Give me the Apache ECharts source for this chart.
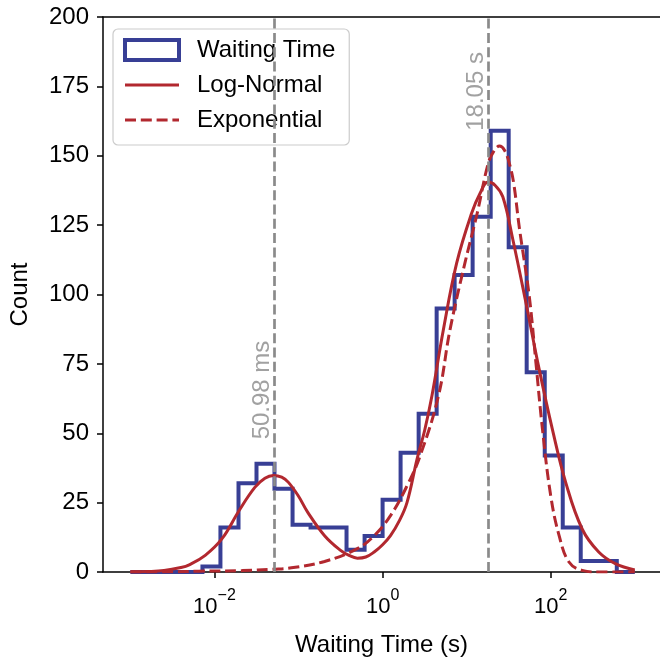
<!DOCTYPE html>
<html>
<head>
<meta charset="utf-8">
<script src="https://cdn.jsdelivr.net/npm/echarts@6/dist/echarts.min.js"></script>
<style>html,body{margin:0;padding:0;background:#fff}#c{width:660px;height:662px}</style>
</head>
<body>
<div id="c"></div>
<script>
// ---- data (x values are log10 of waiting time in seconds) ----
const binEdgesLog10 = [-3, -2.786, -2.571, -2.357, -2.143, -1.929, -1.714, -1.5, -1.286, -1.071,
  -0.857, -0.643, -0.429, -0.214, 0, 0.214, 0.429, 0.643, 0.857, 1.071,
  1.286, 1.5, 1.714, 1.929, 2.143, 2.357, 2.571, 2.786, 3];
const histCounts = [0, 0, 0, 0, 2, 16, 32, 39, 30, 17, 16, 16, 8, 13, 26, 43, 57, 95, 107, 128,
  159, 117, 72, 42, 16, 4, 4, 0];

const lognormLog10T = [-3.0, -2.8, -2.6, -2.4, -2.3, -2.11, -1.91, -1.71, -1.52, -1.4, -1.3, -1.2,
  -1.12, -1.0, -0.89, -0.69, -0.5, -0.4, -0.3, -0.2, -0.1, 0.0, 0.094, 0.2, 0.29, 0.41, 0.5, 0.586,
  0.723, 0.881, 1.058, 1.16, 1.254, 1.34, 1.43, 1.548, 1.706, 1.863, 2.02, 2.178, 2.374, 2.571,
  2.768, 3.0];
const lognormCount = [0.05, 0.15, 0.5, 1.6, 2.6, 6.0, 12, 22, 30.5, 33.8, 34.8, 34.2,
  32.3, 27.3, 21.5, 13.1, 7.8, 6.0, 5.0, 5.4, 7.2, 9.8, 13.1, 18.5, 25, 40.7, 51, 63.3,
  87.3, 111.3, 129.2, 136.5, 140.5, 139.3, 135.2, 120, 96.9, 73, 51.4, 32.3, 15.5, 7.2,
  3.0, 0.7];

const expLog10T = [-3.0, -2.5, -2.19, -1.67, -1.3, -1.085, -0.69, -0.3, -0.1, 0.094, 0.29, 0.448,
  0.664, 0.802, 0.979, 1.124, 1.254, 1.32, 1.39, 1.45, 1.51, 1.56, 1.627, 1.745, 1.824, 1.902,
  2.0, 2.1, 2.217, 2.374, 2.57, 3.0];
const expCount = [0.02, 0.1, 0.3, 0.5, 1.0, 1.5, 3.8, 8.4, 13.1, 20.3, 31, 42,
  63.4, 87.3, 111.3, 129.1, 147, 151.5, 153.5, 152, 147, 140, 124, 99.3, 75.4, 51.4,
  27.5, 13.1, 3.6, 0.6, 0.0, 0.0];

const vlineSeconds = [0.05098, 18.05];
const vlineLabels = ['50.98 ms', '18.05 s'];
const vlineLabelY = [47.8, 159];

const xTickExponents = [-2, 0, 2];

// ---- styling ----
const FONT = "'Liberation Sans', Arial, Helvetica, sans-serif";
const BLUE = '#383f95', RED = '#b2282f', GRAY = '#8a8a8a';
const DASH = [11, 4.8];

// histogram outline (step) built from edges and counts
const histPts = [[binEdgesLog10[0], 0]];
histCounts.forEach((c, i) => {
  histPts.push([binEdgesLog10[i], c]);
  histPts.push([binEdgesLog10[i + 1], c]);
});
histPts.push([binEdgesLog10[binEdgesLog10.length - 1], 0]);

const lognormPts = lognormLog10T.map((x, i) => [x, lognormCount[i]]);
const expPts = expLog10T.map((x, i) => [x, expCount[i]]);
const vlineX = vlineSeconds.map(s => Math.log10(s));

const chart = echarts.init(document.getElementById('c'), null, {renderer: 'canvas'});
const xMin = -3.326, xMax = 3.3;

chart.setOption({
  animation: false,
  backgroundColor: '#fff',
  textStyle: {fontFamily: FONT},
  grid: {left: 100, top: 17, width: 561, height: 556, containLabel: false},
  legend: {
    orient: 'vertical', left: 113, top: 29,
    padding: [9, 14, 13, 10],
    itemWidth: 54, itemHeight: 20, itemGap: 11,
    backgroundColor: 'rgba(255,255,255,0.8)',
    borderColor: '#cccccc', borderWidth: 1.2, borderRadius: 5,
    selectedMode: false,
    textStyle: {fontSize: 24, fontFamily: FONT, color: '#000', padding: [0, 0, 0, 13]},
    data: [
      {name: 'Waiting Time', icon: 'rect', itemStyle: {color: '#fff', borderColor: BLUE, borderWidth: 4}},
      {name: 'Log-Normal', itemStyle: {opacity: 0}, lineStyle: {color: RED, width: 3, type: 'solid'}},
      {name: 'Exponential', itemStyle: {opacity: 0}, lineStyle: {color: RED, width: 3, type: DASH}}
    ]
  },
  xAxis: [{
    type: 'value', min: xMin, max: xMax,
    axisLine: {show: true, onZero: false, lineStyle: {color: '#000', width: 1.5}},
    axisTick: {show: true, customValues: xTickExponents, length: 6, lineStyle: {color: '#000', width: 1.5}},
    axisLabel: {
      show: true, customValues: xTickExponents, margin: 16,
      formatter: v => '{b|10}{s|' + (v < 0 ? '\u2212' : '') + Math.abs(v) + '}',
      rich: {
        b: {fontSize: 22, fontFamily: FONT, color: '#000', lineHeight: 30, verticalAlign: 'bottom'},
        s: {fontSize: 16, fontFamily: FONT, color: '#000', lineHeight: 16, verticalAlign: 'top'}
      }
    },
    splitLine: {show: false},
    name: 'Waiting Time (s)', nameLocation: 'middle', nameGap: 61,
    nameTextStyle: {fontSize: 24, fontFamily: FONT, color: '#000'}
  }, {
    type: 'value', min: xMin, max: xMax, position: 'top',
    axisLine: {show: true, onZero: false, lineStyle: {color: '#000', width: 1.5}},
    axisTick: {show: false}, axisLabel: {show: false}, splitLine: {show: false}
  }],
  yAxis: {
    type: 'value', min: 0, max: 200, interval: 25,
    axisLine: {show: true, onZero: false, lineStyle: {color: '#000', width: 1.5}},
    axisTick: {show: true, length: 6, lineStyle: {color: '#000', width: 1.5}},
    axisLabel: {fontSize: 24, fontFamily: FONT, color: '#000', margin: 14},
    splitLine: {show: false},
    name: 'Count', nameLocation: 'middle', nameGap: 71, nameRotate: 90,
    nameTextStyle: {fontSize: 24, fontFamily: FONT, color: '#000'}
  },
  series: [
    {
      name: 'Waiting Time', type: 'line', data: histPts, symbol: 'none', z: 2,
      lineStyle: {color: BLUE, width: 4, join: 'miter'}, itemStyle: {color: BLUE}, silent: true
    },
    {
      name: 'vlines', type: 'scatter', z: 3, silent: true, symbolSize: 0,
      data: vlineX.map((x, i) => [x, vlineLabelY[i]]),
      label: {
        show: true, position: 'inside', rotate: 90, align: 'left', verticalAlign: 'bottom',
        formatter: p => vlineLabels[p.dataIndex],
        fontSize: 24, fontFamily: FONT, color: GRAY
      },
      markLine: {
        silent: true, symbol: ['none', 'none'], label: {show: false},
        lineStyle: {color: GRAY, width: 2.7, type: [10, 4.3]},
        emphasis: {disabled: true},
        data: vlineX.map(x => ({xAxis: x}))
      }
    },
    {
      name: 'Log-Normal', type: 'line', data: lognormPts, symbol: 'none', smooth: 0.4, z: 4,
      lineStyle: {color: RED, width: 3}, itemStyle: {color: RED}, silent: true
    },
    {
      name: 'Exponential', type: 'line', data: expPts, symbol: 'none', smooth: 0.4, z: 4,
      lineStyle: {color: RED, width: 3, type: DASH}, itemStyle: {color: RED}, silent: true
    }
  ]
});
</script>
</body>
</html>
